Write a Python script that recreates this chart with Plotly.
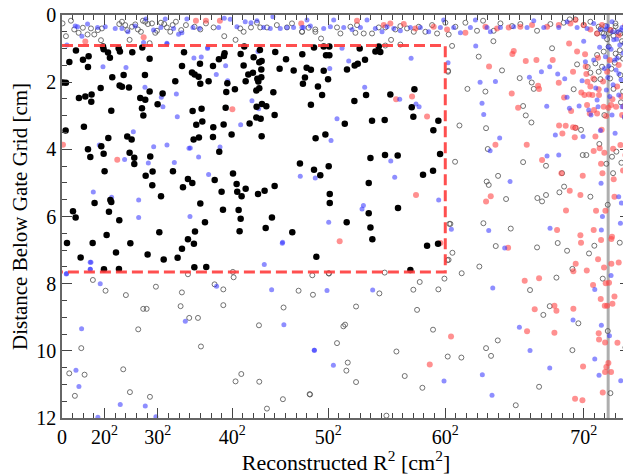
import plotly.graph_objects as go

# ---------------- data (R^2 in cm^2, depth in cm) ----------------
black_r2 = [131, 69, 197, 250, 244, 385, 391, 432, 450, 532, 544, 660, 754, 823, 1146, 1127, 9, 37, 472, 579,
            779, 1064, 363, 541, 563, 629, 823, 945, 159, 219, 278, 275, 735, 782, 898, 751, 463, 764, 206, 34,
            435, 613, 654, 244, 369, 266, 391, 635, 679, 679, 829, 400, 851, 786, 1042, 1183, 848, 1136, 930, 306,
            454, 463, 441, 103, 128, 538, 419, 914, 1183, 47, 288, 642, 175, 507, 804, 955, 1127, 1086, 394, 535,
            1296, 1418, 1474, 1521, 1527, 1678, 1712, 1706, 1800, 1853, 1875, 1859, 2003, 2104, 2257, 2367, 1221, 1246, 1283, 1299,
            1377, 1553, 1543, 1624, 1750, 1725, 1794, 1834, 1844, 1872, 1872, 1853, 1825, 1985, 2044, 2176, 2282, 2263, 2298, 2338,
            2404, 1227, 1311, 1537, 1828, 1878, 1919, 2338, 1997, 1825, 1866, 1762, 1518, 1318, 1261, 1421, 1418, 1286, 1236, 1593,
            1875, 2382, 1477, 2235, 2367, 2426, 1224, 1434, 1606, 1640, 1725, 1646, 1687, 1499, 1841, 1903, 1997, 1299, 1512, 1659,
            1678, 1343, 1972, 1249, 1239, 1668, 1913, 2163, 2389, 1243, 1355,
            2458, 2511, 2480, 2511, 2796, 2944, 2990, 2975, 2846, 2778, 2749, 2677, 2458, 2499, 2443, 2746, 2856, 3084, 3310, 3285,
            3300, 2912, 3031, 2656, 3535, 3488, 2474, 2897, 3034, 3153, 3551, 2505, 2881, 3391, 3485, 2515, 2515, 3156, 2881, 2674,
            2897, 2915, 3429, 3532, 3272]
black_d = [1.06, 1.40, 1.33, 1.23, 1.55, 0.94, 1.02, 1.12, 1.27, 0.99, 1.09, 1.11, 0.97, 1.30, 1.11, 1.52, 2.01, 2.02, 1.85, 1.79,
           1.79, 1.97, 2.17, 2.10, 2.14, 2.16, 2.28, 2.34, 2.47, 2.43, 2.37, 2.58, 2.47, 2.52, 2.66, 2.78, 2.85, 2.99, 3.33, 3.44,
           3.66, 3.62, 3.71, 4.00, 3.91, 4.23, 4.13, 4.10, 4.25, 4.44, 4.21, 4.65, 4.66, 4.79, 4.65, 4.88, 5.07, 5.13, 5.40, 5.60,
           5.51, 5.57, 5.86, 5.84, 6.03, 6.11, 6.55, 6.47, 6.68, 6.79, 6.79, 6.80, 7.22, 7.07, 7.13, 7.28, 6.96, 7.23, 7.57, 7.56,
           1.45, 1.52, 1.32, 1.22, 1.14, 1.16, 0.94, 1.50, 1.26, 1.41, 1.37, 1.04, 1.10, 1.32, 1.17, 0.97, 1.71, 1.77, 1.84, 2.05,
           1.97, 2.03, 2.29, 2.21, 1.77, 1.97, 1.72, 1.90, 1.98, 1.85, 1.62, 2.18, 2.25, 2.30, 1.60, 1.65, 1.86, 2.05, 1.57, 1.63,
           2.13, 2.86, 2.79, 2.76, 2.73, 2.65, 2.72, 2.67, 2.98, 3.05, 3.09, 3.23, 3.26, 3.17, 3.27, 3.34, 3.63, 3.65, 3.71, 3.56,
           3.61, 3.67, 4.07, 4.42, 4.61, 4.77, 5.00, 4.91, 4.72, 5.03, 5.17, 5.26, 5.40, 5.26, 5.33, 5.23, 5.09, 5.61, 5.80, 5.81,
           6.07, 6.17, 6.03, 6.45, 6.81, 6.44, 6.34, 6.47, 7.20, 7.51, 7.50,
           0.94, 0.94, 1.20, 1.20, 1.00, 1.09, 1.10, 0.94, 1.33, 1.45, 1.50, 1.62, 1.66, 1.91, 2.38, 2.56, 2.38, 2.37, 2.21, 2.75,
           3.03, 3.15, 3.13, 3.24, 3.15, 3.43, 3.56, 4.26, 4.17, 4.18, 4.14, 4.50, 5.00, 4.76, 4.64, 5.33, 5.60, 5.75, 5.90, 6.17,
           6.33, 6.68, 6.87, 6.81, 7.59]

gray_r2 = [5, 37, 84, 115, 156, 196, 240, 272, 303, 337, 366, 375, 538, 563, 594, 613, 635, 657, 688, 713,
           741, 760, 782, 807, 823, 845, 876, 892, 929, 960, 985, 1017, 1039, 1070, 1120, 1164, 1245, 1299, 1352, 1424,
           1524, 1630, 1674, 1706, 1775, 1831, 1862, 1925, 2018, 2113, 2160, 2254, 2316, 2379,
           2255, 2380, 2433, 2583, 2615, 2709, 2756, 2771, 2834, 2912, 2975, 3037, 3091, 3131, 3178, 3241, 3304, 3351, 3413, 3476,
           3523, 3601, 3632, 3695, 3789, 3898, 3955, 4055, 4118, 4227, 4305, 4462, 4587, 4712, 4769, 4822, 4900, 4963, 5041, 5104,
           5182, 5245, 5292, 5332, 5198, 5072, 5135, 5026,
           3037, 3178, 3626, 3664, 3808, 3733, 3692, 3648, 3914, 3977, 3983, 3999, 3989, 4008, 3958, 4052, 4096, 4133, 4171, 4215,
           4299, 4331, 4331, 4356, 4412, 4431, 4409, 4465, 4509, 4546, 4546, 4603, 4697, 4716, 4672, 4806, 4822, 4838, 4875, 4891,
           4925, 4938, 4963, 5001, 5010, 5026, 5041, 5047, 5057, 5072, 5088, 5094, 5113, 5126, 5135, 5148, 5166, 5176, 5192, 5207,
           5229, 5245, 5254, 5270, 5282, 5292, 5301, 5314, 5323, 4963,
           68, 121, 181, 212, 290, 409, 600, 575, 638, 716, 763, 795, 826, 882, 1114, 1126, 1183, 1195, 1277, 1305,
           1433, 1515, 1515, 1605, 1612, 1630, 1684, 1850, 1853, 1925, 2075, 2081, 2222, 2326, 2351, 2357,
           2330, 2508, 2583, 2643, 2659, 2684, 2671, 2762, 2762, 2981, 3031, 3047, 3141, 3219, 3300, 3335, 3360, 3385, 3485, 3535,
           3592, 3620, 3623, 3667, 3754, 3751, 3920, 3983, 4030, 4074, 4093, 4262, 4396, 4462, 4481, 4521, 4581, 4644, 4656, 4744,
           4794, 4794, 4850, 4950, 5000, 5079, 5126, 5151, 5239, 5292,
           2505, 3631, 3638, 3626,
           5150, 5180, 5200, 5230, 5260, 5290, 5310, 5240, 5120, 5090, 5060, 5270, 5200, 5160, 5300, 5320, 5250, 5180]
gray_d = [0.25, 0.63, 0.17, 0.43, 0.53, 0.38, 0.58, 0.40, 0.58, 0.45, 0.75, 0.40, 0.27, 0.20, 0.30, 0.45, 0.74, 0.35, 0.28, 0.43,
          0.50, 0.17, 0.20, 0.27, 0.84, 0.25, 0.53, 0.47, 0.23, 0.27, 0.37, 0.50, 0.30, 0.20, 0.45, 0.30, 0.35, 0.43, 0.25, 0.37,
          0.63, 0.74, 0.40, 0.50, 0.37, 0.23, 0.37, 0.37, 0.30, 0.37, 0.25, 0.50, 0.38, 0.43,
          0.50, 0.50, 0.70, 0.37, 0.55, 0.35, 0.53, 0.30, 0.55, 0.55, 0.37, 0.37, 0.74, 0.43, 0.33, 0.40, 0.50, 0.35, 0.50, 0.30,
          0.55, 0.23, 0.58, 0.35, 0.23, 0.47, 0.17, 0.47, 0.25, 0.33, 0.27, 0.47, 0.27, 0.23, 0.13, 0.13, 0.30, 0.20, 0.35, 0.33,
          0.47, 0.55, 0.33, 0.40, 0.25, 0.53, 0.55, 0.55,
          0.91, 0.88, 1.66, 0.92, 2.20, 3.29, 4.37, 6.22, 1.24, 2.28, 3.37, 3.99, 4.96, 5.06, 6.20, 0.78, 4.79, 1.65, 5.48, 6.36,
          1.88, 2.71, 4.38, 2.99, 2.01, 2.20, 3.20, 5.45, 5.55, 4.49, 5.36, 0.99, 4.71, 5.11, 5.28, 2.21, 3.36, 1.47, 3.42, 4.17,
          4.17, 1.55, 1.72, 1.92, 1.44, 1.19, 1.69, 3.84, 1.91, 1.54, 1.09, 2.98, 4.43, 5.65, 0.94, 1.89, 4.22, 4.71, 1.42, 4.07,
          1.24, 1.79, 4.40, 2.28, 0.84, 3.08, 1.74, 3.32, 1.14, 5.41,
          10.67, 11.34, 9.92, 10.71, 7.89, 8.21, 8.34, 10.55, 11.23, 9.36, 8.75, 8.75, 11.37, 8.09, 8.67, 8.26, 7.72, 9.02, 9.02, 9.87,
          8.02, 8.17, 8.64, 7.65, 7.81, 10.91, 10.69, 9.24, 10.92, 11.72, 11.44, 8.71, 8.21, 11.29, 7.75, 8.33,
          11.30, 7.70, 9.77, 9.27, 9.22, 10.35, 10.59, 8.68, 10.93, 8.29, 7.67, 11.93, 10.02, 10.75, 8.18, 8.78, 7.95, 11.10, 9.37, 8.17,
          7.85, 7.30, 10.17, 7.08, 7.69, 10.20, 7.49, 9.92, 10.15, 6.88, 9.69, 11.62, 8.19, 6.92, 11.07, 8.93, 8.67, 7.82, 6.79, 7.02,
          7.56, 9.98, 9.18, 7.10, 6.87, 7.85, 9.41, 11.26, 6.78, 9.90,
          7.69, 7.29, 6.22, 1.69,
          0.45, 0.62, 0.33, 0.52, 0.78, 0.58, 0.95, 1.05, 0.72, 0.55, 0.40, 1.30, 1.15, 1.60, 1.90, 2.30, 2.60, 2.20]

blue_r2 = [46, 124, 146, 187, 240, 334, 406, 500, 563, 619, 688, 766, 788, 860, 929, 970, 985, 1048, 1095, 1126,
           1173, 1230, 1292, 1367, 1471, 1524, 1580, 1643, 1721, 1775, 1831, 1893, 1956, 1981, 2050, 2113, 2175, 2254, 2301,
           2270, 2333, 2458, 2521, 2552, 2646, 2724, 2803, 2865, 2943, 3006, 3053, 3116, 3178, 3272, 3366, 3444, 3554, 3585, 3679,
           3742, 3836, 3883, 3992, 4024, 4118, 4243, 4368, 4431, 4525, 4666, 4744, 4838, 4932, 4994, 5057, 5120, 5166, 5214, 5261,
           5307,
           2630, 2693, 2515, 2843, 3279, 3325, 3354, 2583, 2527, 3088, 3125, 2818, 2831, 2505, 3538, 3626, 3657, 3886, 3927, 3945,
           3961, 4021, 4111, 4071, 4208, 4008, 4390, 4503, 4553, 4556, 4581, 4584, 4634, 4656, 4666, 4722, 4744, 4766, 4857, 4885,
           4894, 4900, 4916, 4947, 4969, 4994, 5013, 5026, 5035, 5050, 5057, 5063, 5076, 5088, 5094, 5104, 5113, 5126, 5135, 5145,
           5157, 5166, 5176, 5182, 5195, 5204, 5214, 5229, 5239, 5251, 5261, 5270, 5282, 5292, 5301, 5314, 5323, 5254, 5229, 5245,
           5066,
           43, 184, 131, 159, 265, 265, 359, 337, 547, 782, 882, 1158, 1452, 1900, 1969, 2069, 2084, 2369,
           2489, 2371, 2549, 2918, 3588, 3948, 4039, 4046, 4158, 4296, 4396, 4581, 4800, 5004, 5004, 5044, 5066, 5142, 5157, 5248,
           385, 601, 779, 933, 948, 1083, 1074, 670, 861, 986, 350, 588, 811, 1055, 294, 466, 720, 720, 272, 266,
           1193, 986, 40,
           1239, 1308, 1368, 1449, 1537, 1556, 1784, 1847, 1678, 1205, 1283, 1484, 1377, 2238, 2379, 1202, 2072, 1841, 3172,
           5170, 5210, 5250, 5285, 5130, 5190, 5230, 5300, 5110]
blue_d = [0.89, 0.33, 0.35, 0.63, 0.27, 0.37, 0.35, 0.40, 0.40, 0.50, 0.33, 0.82, 0.12, 0.45, 0.37, 0.12, 0.84, 0.40, 0.57, 0.53,
          0.12, 0.37, 0.40, 1.00, 0.37, 0.10, 0.13, 0.35, 0.20, 0.23, 0.17, 0.37, 0.40, 0.05, 0.40, 0.37, 0.37, 0.37, 0.15,
          0.37, 0.33, 0.40, 0.35, 0.15, 0.37, 0.43, 0.37, 0.15, 0.40, 0.50, 0.35, 0.40, 0.47, 0.37, 0.37, 0.50, 0.37, 0.15, 0.37,
          0.53, 0.37, 0.15, 0.37, 0.50, 0.37, 0.35, 0.37, 0.17, 0.37, 0.37, 0.20, 0.37, 0.40, 0.25, 0.43, 0.33, 0.20, 0.50, 0.37,
          0.15,
          0.99, 1.37, 1.59, 2.15, 1.29, 2.65, 2.73, 3.09, 3.74, 4.35, 4.83, 5.78, 5.67, 6.17, 5.51, 1.42, 6.38, 0.92, 2.00, 2.63,
          2.96, 4.04, 3.66, 1.98, 4.96, 6.42, 1.85, 1.69, 2.72, 4.20, 1.54, 6.35, 3.57, 1.76, 4.17, 1.90, 2.45, 2.78, 2.71, 1.96,
          3.62, 0.78, 1.39, 2.83, 2.98, 1.34, 2.17, 2.53, 2.73, 0.96, 3.44, 5.01, 6.00, 0.65, 1.59, 1.24, 2.23, 1.86, 1.52, 2.43,
          1.02, 2.98, 2.08, 0.74, 3.52, 1.64, 1.29, 2.38, 0.89, 1.93, 2.73, 1.14, 3.03, 1.49, 0.65, 2.08, 0.94, 5.60, 5.41, 6.20,
          6.40,
          7.70, 9.34, 10.58, 11.06, 7.36, 7.57, 8.00, 11.98, 11.60, 11.64, 11.96, 9.12, 8.08, 7.43, 8.18, 6.80, 9.22, 9.98,
          8.20, 9.98, 10.43, 8.19, 10.90, 10.71, 11.32, 8.13, 6.94, 9.30, 9.99, 10.51, 9.08, 10.24, 8.17, 10.73, 9.24, 9.55, 7.76, 10.89,
          1.54, 1.56, 2.15, 2.45, 2.73, 3.03, 2.35, 3.48, 3.92, 3.87, 3.87, 4.30, 4.41, 4.39, 5.27, 5.43, 5.51, 6.03, 7.36, 7.57,
          3.97, 0.86, 7.71,
          1.28, 1.25, 0.97, 1.77, 1.51, 1.96, 2.55, 2.79, 3.27, 3.96, 4.23, 3.93, 4.75, 4.80, 4.85, 6.00, 6.77, 1.09, 2.51,
          0.50, 0.72, 0.45, 0.85, 0.95, 1.35, 1.75, 1.25, 0.42]

red_r2 = [219, 767, 9, 519, 1600, 1258, 1352, 1483, 2247, 3325, 3554,
          2771, 3022, 3084, 3210, 3319, 3491, 3617, 3789, 3977, 4086, 4196, 4305, 4415, 4556, 4666, 4775, 4822, 4900, 4963, 5026,
          5072, 5151, 5229, 5292,
          3138, 3288, 3429, 4011, 4243, 4230, 4224, 4284, 4071, 3983, 4027, 4365, 4356, 4456, 4472, 4481, 4509, 4609, 4669, 4666,
          4691, 4700, 4716, 4731, 4734, 4763, 4769, 4782, 4800, 4800, 4816, 4825, 4838, 4878, 4869, 4891, 4907, 4913, 4919, 4925,
          4935, 4932, 4950, 4957, 4963, 4982, 4991, 4997, 5010, 5016, 4994, 5026, 5035, 5041, 5044, 5050, 5063, 5069, 5076, 5082,
          5088, 5094, 5104, 5110, 5120, 5132, 5145, 5157, 5170, 5176, 5182, 5189, 5204, 5214, 5229, 5245, 5254, 5261, 5270, 5279,
          5292, 4994, 5166, 4650,
          2608, 3454, 3654, 4190, 4346, 4481, 4440, 4368, 4625, 4644, 4625, 4803, 4825, 4803, 4869, 4875, 4929, 4894, 4819, 4888,
          4988, 5035, 5060, 5041, 5044, 5063, 5091, 5098, 5107, 5101, 5079, 5101, 5113, 5120, 5132, 5138, 5160, 5160, 5170, 5157,
          5189, 5217, 5229]
red_d = [0.79, 0.66, 3.86, 4.31, 2.81, 0.17, 0.17, 0.17, 0.25, 5.36, 6.79,
         0.17, 0.30, 0.25, 0.27, 0.40, 0.35, 0.43, 0.53, 0.35, 0.40, 0.37, 0.35, 0.30, 0.35, 0.30, 0.25, 0.15, 0.30, 0.43, 0.55,
         0.30, 0.45, 0.60, 0.30,
         2.51, 2.43, 3.02, 1.53, 1.07, 1.16, 2.34, 2.76, 3.86, 5.55, 5.40, 3.86, 1.37, 1.34, 2.11, 2.20, 4.32, 1.34, 3.29, 2.02,
         4.71, 3.53, 2.46, 3.30, 5.82, 0.85, 5.23, 2.86, 1.69, 3.34, 3.64, 3.36, 1.09, 2.31, 5.36, 4.79, 2.38, 1.17, 1.53, 1.76,
         1.99, 2.68, 2.37, 2.93, 2.13, 2.38, 1.89, 2.83, 3.62, 5.83, 4.05, 2.93, 1.27, 2.21, 2.38, 3.97, 4.43, 3.42, 4.71, 1.98,
         2.73, 4.10, 5.83, 3.01, 1.69, 2.76, 1.34, 2.68, 2.51, 3.98, 4.89, 5.41, 2.73, 2.13, 1.49, 3.87, 2.43, 2.98, 4.63, 2.73,
         4.17, 6.40, 6.60, 6.40,
         6.74, 10.41, 9.57, 6.93, 7.91, 7.84, 8.76, 9.42, 8.66, 8.81, 9.46, 7.63, 7.41, 8.75, 6.56, 6.78, 7.61, 10.47, 11.43, 11.47,
         8.04, 7.27, 8.46, 9.48, 9.66, 6.70, 7.52, 8.66, 7.99, 9.75, 11.24, 10.63, 10.48, 8.66, 10.36, 7.97, 6.67, 7.41, 8.60, 10.63,
         8.38, 9.76, 7.37]

# axis ticks
x_tick_vals = [0, 400, 900, 1600, 2500, 3600, 4900]
x_tick_text = ["0", "20<sup>2</sup>", "30<sup>2</sup>", "40<sup>2</sup>", "50<sup>2</sup>", "60<sup>2</sup>", "70<sup>2</sup>"]
y_tick_vals = [0, 2, 4, 6, 8, 10, 12]

# selection box (R^2 limits, depth limits) and reference line
box_r2_max = 3600
box_d_top = 0.91
box_d_bottom = 7.65
ref_line_r2 = 5130

FONT = "Liberation Serif, Times New Roman, serif"

fig = go.Figure()
fig.add_trace(go.Scatter(x=gray_r2, y=gray_d, mode="markers",
                         marker=dict(symbol="circle-open", size=5, color="rgba(80,80,80,0.8)",
                                     line=dict(width=1, color="rgba(80,80,80,0.8)")),
                         showlegend=False, hoverinfo="skip"))
fig.add_trace(go.Scatter(x=red_r2, y=red_d, mode="markers",
                         marker=dict(size=6, color="rgba(255,70,70,0.6)", line=dict(width=0)),
                         showlegend=False, hoverinfo="skip"))
fig.add_trace(go.Scatter(x=blue_r2, y=blue_d, mode="markers",
                         marker=dict(size=5, color="rgba(50,50,255,0.55)", line=dict(width=0)),
                         showlegend=False, hoverinfo="skip"))
fig.add_trace(go.Scatter(x=black_r2, y=black_d, mode="markers",
                         marker=dict(size=6.5, color="black", line=dict(width=0)),
                         showlegend=False, hoverinfo="skip"))

# vertical gray reference line
fig.add_shape(type="line", x0=ref_line_r2, x1=ref_line_r2, y0=0, y1=12, xref="x", yref="y",
              line=dict(color="rgba(160,160,160,0.85)", width=3), layer="below")
# red dashed selection box
fig.add_shape(type="path",
              path=f"M 0,{box_d_top} L {box_r2_max},{box_d_top} L {box_r2_max},{box_d_bottom} L 0,{box_d_bottom}",
              xref="x", yref="y", line=dict(color="rgba(255,60,60,0.9)", width=3, dash="11px,5px"))

axis_common = dict(showline=True, linecolor="#666", linewidth=1.5, mirror="allticks",
                   ticks="inside", ticklen=10, tickcolor="#444", tickwidth=1,
                   showgrid=False, zeroline=False, automargin=False, ticklabeloverflow="allow",
                   tickfont=dict(family=FONT, size=20, color="black"))

fig.update_xaxes(range=[0, 5335], tickmode="array", tickvals=x_tick_vals, ticktext=x_tick_text,
                 minor=dict(tickmode="linear", tick0=0, dtick=100, ticks="inside", ticklen=5,
                            tickcolor="#444", showgrid=False),
                 title=dict(text="Reconstructed R<sup>2</sup> [cm<sup>2</sup>]",
                            font=dict(family=FONT, size=22, color="black"), standoff=4),
                 **axis_common)
fig.update_yaxes(range=[12, 0], tickmode="array", tickvals=y_tick_vals,
                 minor=dict(tickmode="linear", tick0=0, dtick=0.5, ticks="inside", ticklen=5,
                            tickcolor="#444", showgrid=False),
                 title=dict(text="Distance Below Gate Grid [cm]",
                            font=dict(family=FONT, size=21, color="black"), standoff=4),
                 **axis_common)

# the page body adds an 8px offset, so the figure is sized to end at the window edge
fig.update_layout(width=623, height=467, margin=dict(l=54, r=1, t=7, b=57),
                  plot_bgcolor="white", paper_bgcolor="white",
                  font=dict(family=FONT, color="black"))

fig.write_html("out.html")
